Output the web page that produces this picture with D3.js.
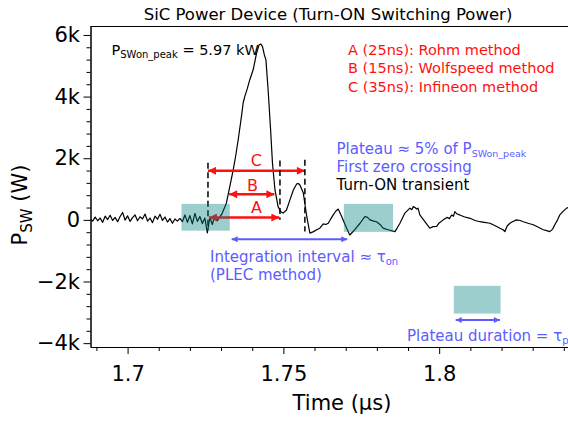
<!DOCTYPE html>
<html>
<head>
<meta charset="utf-8">
<script src="https://cdn.jsdelivr.net/npm/d3@7"></script>
<style>
  body { margin: 0; background: #fff; }
  svg { display: block; font-family: 'DejaVu Sans', sans-serif; }
</style>
</head>
<body>
<div id="chart"></div>
<script>
// turn-on switching power trace
const timeUs = [
  1.6880, 1.6888, 1.6896, 1.6904, 1.6912, 1.6920, 1.6928, 1.6936, 1.6944, 1.6952,
  1.6960, 1.6968, 1.6976, 1.6984, 1.6992, 1.7000, 1.7008, 1.7016, 1.7024, 1.7032,
  1.7040, 1.7048, 1.7056, 1.7064, 1.7072, 1.7080, 1.7088, 1.7096, 1.7104, 1.7112,
  1.7120, 1.7128, 1.7136, 1.7144, 1.7152, 1.7160, 1.7168, 1.7176, 1.7184, 1.7192,
  1.7200, 1.7208, 1.7216, 1.7224, 1.7232, 1.7240, 1.7248, 1.7256, 1.7264, 1.7272,
  1.7280, 1.7288, 1.7296, 1.7304,
  1.7317, 1.7328, 1.7339, 1.7347, 1.7355, 1.7366, 1.7371, 1.7376, 1.7384, 1.7392,
  1.7403, 1.7414, 1.7422, 1.7428, 1.7433, 1.7439, 1.7444, 1.7451, 1.7459, 1.7465,
  1.7473, 1.7483, 1.7492, 1.7499, 1.7510, 1.7521, 1.7532, 1.7543, 1.7548, 1.7553,
  1.7564, 1.7575, 1.7585, 1.7595, 1.7607, 1.7617, 1.7628, 1.7636, 1.7644, 1.7652,
  1.7660, 1.7668, 1.7676, 1.7687, 1.7703, 1.7713, 1.7729, 1.7746, 1.7762, 1.7770,
  1.7778, 1.7790, 1.7799, 1.7810, 1.7820, 1.7836, 1.7858, 1.7866, 1.7874, 1.7890,
  1.7898, 1.7906, 1.7912, 1.7917, 1.7922, 1.7928, 1.7932, 1.7938, 1.7954, 1.7970,
  1.7980, 1.7992, 1.8000, 1.8013, 1.8025, 1.8033, 1.8040, 1.8046, 1.8050, 1.8056,
  1.8066, 1.8080, 1.8099, 1.8115, 1.8131, 1.8145, 1.8163, 1.8180, 1.8195, 1.8205,
  1.8211, 1.8218, 1.8227, 1.8235, 1.8248, 1.8260, 1.8270, 1.8285, 1.8302, 1.8320,
  1.8334, 1.8345, 1.8355, 1.8364, 1.8371, 1.8380, 1.8387, 1.8400, 1.8409, 1.8420,
];
const powerW = [
  20, -40, 90, -30, 60, -80, 120, 10, 150, -20,
  80, -60, 110, 240, -10, 130, -50, 70, 160, -30,
  100, 30, 190, -40, 60, -90, 120, 20, 180, -20,
  90, -70, 40, -110, 30, -40, 50, -60, 160, -80,
  140, -130, 210, -50, 110, -120, 60, -420, 80, -150,
  140, -30, 90, 220,
  540, 1080, 1620, 2080, 2600, 3400, 3800, 4000, 4250, 4540,
  4870, 5410, 5680, 5700, 5620, 5350, 5190, 4220, 2920, 1840,
  970, 430, 260, 220, 320, 650, 970, 1170, 1180, 1130,
  870, 110, -430, -390, -320, -270, -130, -150, -110, 30,
  160, 280, 350, 110, -270, -490, -320, -110, 110, 80,
  0, -40, -60, -150, -270, -320, -380, -250, -110, 220,
  300, 380, 330, 430, 400, 350, 380, 160, -60, -270,
  -220, -210, -100, 0, 80, 40, 160, 120, 270, 200,
  160, 100, 50, -20, -60, -80, -110, -190, -270, -320,
  -380, -200, -110, -60, 0, -20, -60, -110, -160, -250,
  -320, -350, -380, -300, -160, 0, 160, 300, 380, 420,
];

const xTicks = [1.7, 1.75, 1.8];
const xMinorTicks = [1.69, 1.71, 1.72, 1.73, 1.74, 1.76, 1.77, 1.78, 1.79, 1.81, 1.82, 1.83, 1.84];
const yTicks = [-4000, -2000, 0, 2000, 4000, 6000];
const yMinorTicks = [-3600, -3200, -2800, -2400, -1600, -1200, -800, -400,
  400, 800, 1200, 1600, 2400, 2800, 3200, 3600, 4400, 4800, 5200, 5600];

const methodLines = ['A (25ns): Rohm method', 'B (15ns): Wolfspeed method', 'C (35ns): Infineon method'];

// annotation geometry, in data units (µs, W)
const plateauBoxes = [
  { t0: 1.7173, t1: 1.7328, p0: -350, p1: 520 },
  { t0: 1.7694, t1: 1.7852, p0: -390, p1: 520 },
  { t0: 1.8047, t1: 1.8197, p0: -3040, p1: -2140 },
];
const dashedMarkers = [
  { t: 1.7258, p0: -330, p1: 1850 },
  { t: 1.7489, p0: 0, p1: 1930 },
  { t: 1.7569, p0: -380, p1: 1950 },
];
const methodArrows = [
  { name: 'C', t0: 1.7258, t1: 1.7569, p: 1590, labelT: 1.7413, labelP: 1740 },
  { name: 'B', t0: 1.7326, t1: 1.7471, p: 830, labelT: 1.7401, labelP: 950 },
  { name: 'A', t0: 1.7261, t1: 1.7487, p: 75, labelT: 1.7414, labelP: 220 },
];
const integrationArrow = { t0: 1.7334, t1: 1.7705, p: -630 };
const plateauArrow = { t0: 1.8053, t1: 1.8195, p: -3250 };

const width = 568;
const height = 422;
const plot = { left: 90.5, right: 568.5, top: 26, bottom: 347 };

const red = '#ff1010';
const blue = '#5c5cff';

const x = d3.scaleLinear().domain([1.6881, 1.8415]).range([plot.left, plot.right]);
const y = d3.scaleLinear().domain([-4125, 6290]).range([plot.bottom, plot.top]);

const svg = d3.select('#chart').append('svg')
  .attr('width', width)
  .attr('height', height);

const defs = svg.append('defs');
defs.append('clipPath').attr('id', 'plot-clip')
  .append('rect')
  .attr('x', plot.left).attr('y', plot.top)
  .attr('width', plot.right - plot.left).attr('height', plot.bottom - plot.top);

function addMarker(id, color, w, h) {
  defs.append('marker')
    .attr('id', id)
    .attr('viewBox', '0 0 10 10')
    .attr('refX', 10).attr('refY', 5)
    .attr('markerUnits', 'userSpaceOnUse')
    .attr('markerWidth', w).attr('markerHeight', h)
    .attr('orient', 'auto-start-reverse')
    .append('path')
    .attr('d', 'M0,0L10,5L0,10Z')
    .attr('fill', color);
}
addMarker('head-red', red, 9, 8);
addMarker('head-blue', blue, 7, 6);

// axes
const xAxis = d3.axisBottom(x).tickValues(xTicks).tickSize(7).tickPadding(12).tickSizeOuter(0)
  .tickFormat((d) => String(d));
const xMinor = d3.axisBottom(x).tickValues(xMinorTicks).tickSize(4).tickSizeOuter(0).tickFormat('');
const yFormat = (d) => (d === 0 ? '0' : `${d < 0 ? '\u2212' : ''}${Math.abs(d) / 1000}k`);
const yAxis = d3.axisLeft(y).tickValues(yTicks).tickSize(7).tickPadding(3.5).tickSizeOuter(0)
  .tickFormat(yFormat);
const yMinor = d3.axisLeft(y).tickValues(yMinorTicks).tickSize(4).tickSizeOuter(0).tickFormat('');

const axisG = svg.append('g').attr('class', 'axes');
axisG.append('g').attr('transform', `translate(0,${plot.bottom})`).call(xMinor);
axisG.append('g').attr('transform', `translate(0,${plot.bottom})`).call(xAxis);
axisG.append('g').attr('transform', `translate(${plot.left},0)`).call(yMinor);
axisG.append('g').attr('transform', `translate(${plot.left},0)`).call(yAxis);
axisG.selectAll('text')
  .attr('font-family', "'DejaVu Sans', sans-serif")
  .attr('font-size', 21)
  .attr('fill', '#000');
axisG.selectAll('line, path').attr('stroke', '#000');

// top frame
svg.append('line')
  .attr('x1', plot.left).attr('x2', plot.right)
  .attr('y1', plot.top + 0.5).attr('y2', plot.top + 0.5)
  .attr('stroke', '#000');

// trace
const line = d3.line()
  .x((d, i) => x(timeUs[i]))
  .y((d) => y(d));
svg.append('path')
  .datum(powerW)
  .attr('clip-path', 'url(#plot-clip)')
  .attr('d', line)
  .attr('fill', 'none')
  .attr('stroke', '#000')
  .attr('stroke-width', 1.2)
  .attr('stroke-linejoin', 'round');

// method arrows A/B/C
const arrows = svg.append('g');
arrows.selectAll('line').data(methodArrows).enter()
  .append('line')
  .attr('x1', (d) => x(d.t0)).attr('x2', (d) => x(d.t1))
  .attr('y1', (d) => y(d.p)).attr('y2', (d) => y(d.p))
  .attr('stroke', red)
  .attr('stroke-width', 2.5)
  .attr('marker-start', 'url(#head-red)')
  .attr('marker-end', 'url(#head-red)');
arrows.selectAll('text').data(methodArrows).enter()
  .append('text')
  .attr('x', (d) => x(d.labelT))
  .attr('y', (d) => y(d.labelP))
  .attr('text-anchor', 'middle')
  .attr('font-size', 16)
  .attr('fill', red)
  .text((d) => d.name);

svg.append('g').selectAll('line').data(dashedMarkers).enter()
  .append('line')
  .attr('x1', (d) => x(d.t)).attr('x2', (d) => x(d.t))
  .attr('y1', (d) => y(d.p1)).attr('y2', (d) => y(d.p0))
  .attr('stroke', '#000')
  .attr('stroke-width', 1.5)
  .attr('stroke-dasharray', '6,3.5');

// blue double arrows
[integrationArrow, plateauArrow].forEach((a) => {
  svg.append('line')
    .attr('x1', x(a.t0)).attr('x2', x(a.t1))
    .attr('y1', y(a.p)).attr('y2', y(a.p))
    .attr('stroke', blue)
    .attr('stroke-width', 2)
    .attr('marker-start', 'url(#head-blue)')
    .attr('marker-end', 'url(#head-blue)');
});

// plateau boxes, translucent over the trace
svg.append('g').selectAll('rect').data(plateauBoxes).enter()
  .append('rect')
  .attr('x', (d) => x(d.t0))
  .attr('y', (d) => y(d.p1))
  .attr('width', (d) => x(d.t1) - x(d.t0))
  .attr('height', (d) => y(d.p0) - y(d.p1))
  .attr('fill', 'rgb(0,128,128)')
  .attr('fill-opacity', 0.39);

// texts
svg.append('text')
  .attr('x', 328).attr('y', 20)
  .attr('text-anchor', 'middle')
  .attr('font-size', 16.5)
  .text('SiC Power Device (Turn-ON Switching Power)');

svg.append('text')
  .attr('x', 342).attr('y', 410)
  .attr('text-anchor', 'middle')
  .attr('font-size', 21)
  .text('Time (µs)');

const yLabel = svg.append('text')
  .attr('transform', 'translate(27,205) rotate(-90)')
  .attr('text-anchor', 'middle')
  .attr('font-size', 21);
yLabel.append('tspan').text('P');
yLabel.append('tspan').attr('font-size', 15).attr('dy', 5).text('SW');
yLabel.append('tspan').attr('dy', -5).text(' (W)');

const peak = svg.append('text')
  .attr('x', 111.5).attr('y', 55)
  .attr('font-size', 14.5);
peak.append('tspan').text('P');
peak.append('tspan').attr('font-size', 10).attr('dy', 3).text('SWon_peak');
peak.append('tspan').attr('dy', -3).text(' = 5.97 kW');

svg.append('g').selectAll('text').data(methodLines).enter()
  .append('text')
  .attr('x', 348)
  .attr('y', (d, i) => 55 + i * 18.3)
  .attr('font-size', 14.5)
  .attr('fill', red)
  .text((d) => d);

const plateauText = svg.append('text')
  .attr('x', 336.5).attr('y', 154)
  .attr('font-size', 15)
  .attr('fill', blue);
plateauText.append('tspan').text('Plateau \u2248 5% of P');
plateauText.append('tspan').attr('font-size', 9.5).attr('dy', 3).text('SWon_peak');

svg.append('text')
  .attr('x', 336.5).attr('y', 172)
  .attr('font-size', 15)
  .attr('fill', blue)
  .text('First zero crossing');

svg.append('text')
  .attr('x', 336.5).attr('y', 190)
  .attr('font-size', 15)
  .attr('fill', '#000')
  .text('Turn-ON transient');

const integText = svg.append('text')
  .attr('x', 210).attr('y', 262)
  .attr('font-size', 15)
  .attr('fill', blue);
integText.append('tspan').text('Integration interval \u2248 \u03c4');
integText.append('tspan').attr('font-size', 10).attr('dy', 3).text('on');

svg.append('text')
  .attr('x', 210).attr('y', 279.5)
  .attr('font-size', 15)
  .attr('fill', blue)
  .text('(PLEC method)');

const durText = svg.append('text')
  .attr('x', 407).attr('y', 341)
  .attr('font-size', 15)
  .attr('fill', blue);
durText.append('tspan').text('Plateau duration = \u03c4');
durText.append('tspan').attr('font-size', 10).attr('dy', 3).text('p');
</script>
</body>
</html>
